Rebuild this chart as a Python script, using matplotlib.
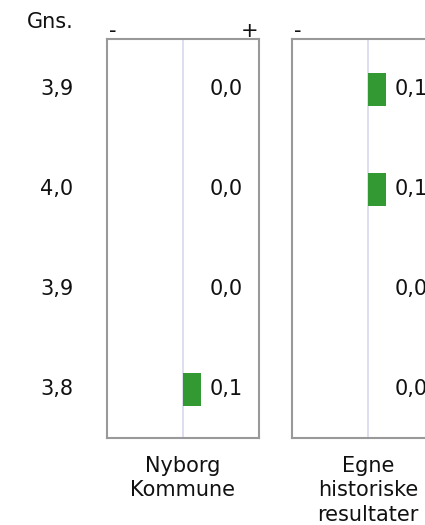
import matplotlib
matplotlib.use("Agg")
import matplotlib.pyplot as plt
import matplotlib.transforms as mtransforms

plt.rcParams['font.family'] = ['DejaVu Sans']

gns = ["3,9", "4,0", "3,9", "3,8"]
panels = ["Nyborg\nKommune", "Egne\nhistoriske\nresultater"]
values = [
    [0.0, 0.0, 0.0, 0.1],
    [0.1, 0.1, 0.0, 0.0],
]

W, H = 425, 525
fig = plt.figure(figsize=(W / 100, H / 100), dpi=100)
fig.patch.set_facecolor("white")

FS = 15
frame_col = "#999999"
bar_col = "#339933"
mid_col = "#d8d8f0"

lefts = [107, 292]
top, bottom = 39, 438
pw = 152
axes = []
for i, (lab, vals) in enumerate(zip(panels, values)):
    ax = fig.add_axes([lefts[i] / W, (H - bottom) / H, pw / W, (bottom - top) / H])
    ax.set_xlim(-0.42, 0.42)
    ax.set_ylim(3.49, -0.5)
    ax.axvline(0, color=mid_col, lw=1.2, zorder=1)
    ypos = list(range(len(vals)))
    ax.barh(ypos, vals, height=0.33, color=bar_col, zorder=2)
    for y, v in zip(ypos, vals):
        ax.annotate(f"{v:.1f}".replace(".", ","), xy=(0, y), xytext=(19, 0),
                    textcoords="offset points", ha="left", va="center",
                    fontsize=FS, color="#111111", annotation_clip=False)
    ax.set_xticks([])
    ax.set_yticks([])
    for s in ax.spines.values():
        s.set_color(frame_col)
        s.set_linewidth(1.5)
    ax.text(0.5, -0.045, lab, transform=ax.transAxes, ha="center", va="top",
            fontsize=FS, color="#111111", linespacing=1.28)
    ax.text(0.04, 1.006, "-", transform=ax.transAxes, ha="center", va="baseline",
            fontsize=FS, color="#111111")
    if i == 0:
        ax.text(0.94, 1.006, "+", transform=ax.transAxes, ha="center", va="baseline",
                fontsize=FS, color="#111111")
    axes.append(ax)

ax0 = axes[0]
trans = mtransforms.blended_transform_factory(ax0.transAxes, ax0.transData)
for y, g in enumerate(gns):
    ax0.text(-0.22, y, g, transform=trans, ha="right", va="center",
             fontsize=FS, color="#111111")
ax0.text(-0.22, 1.027, "Gns.", transform=ax0.transAxes, ha="right", va="baseline",
         fontsize=FS, color="#111111")

fig.savefig("out.png", dpi=100, facecolor="white")
